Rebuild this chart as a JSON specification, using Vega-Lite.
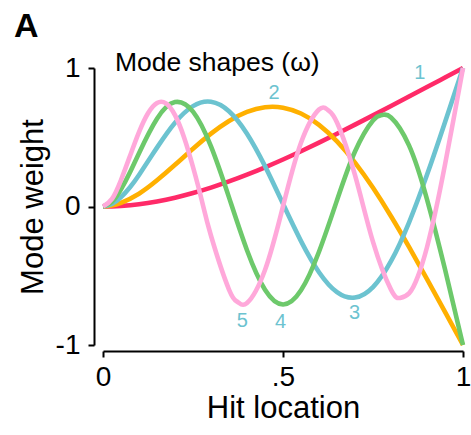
{
  "$schema": "https://vega.github.io/schema/vega-lite/v6.json",
  "width": 360,
  "height": 277,
  "autosize": {"type": "none"},
  "padding": {"left": 103, "top": 68, "right": 8, "bottom": 90},
  "background": "white",
  "title": {"text": "A", "anchor": "start", "frame": "group", "dx": -89, "offset": 6, "fontSize": 34, "fontWeight": "bold", "font": "Liberation Sans", "color": "black"},
  "config": {
    "view": {"stroke": null},
    "axis": {"grid": false, "labelFlush": false, "domainColor": "black", "domainWidth": 2, "tickColor": "black", "tickWidth": 2, "tickSize": 6, "labelFont": "Liberation Sans", "labelFontSize": 28, "labelColor": "black", "titleFont": "Liberation Sans", "titleFontSize": 31, "titleFontWeight": "normal", "titleColor": "black"}
  },
  "datasets": {
    "modes": [
      {"mode": "1", "x": 0, "w": 0}, {"mode": "1", "x": 0.025, "w": 0.0011}, {"mode": "1", "x": 0.05, "w": 0.0043}, {"mode": "1", "x": 0.1, "w": 0.0168}, {"mode": "1", "x": 0.15, "w": 0.0368}, {"mode": "1", "x": 0.2, "w": 0.0639}, {"mode": "1", "x": 0.25, "w": 0.0973}, {"mode": "1", "x": 0.3, "w": 0.1365}, {"mode": "1", "x": 0.35, "w": 0.1809}, {"mode": "1", "x": 0.4, "w": 0.2299}, {"mode": "1", "x": 0.45, "w": 0.283}, {"mode": "1", "x": 0.5, "w": 0.3395}, {"mode": "1", "x": 0.55, "w": 0.3991}, {"mode": "1", "x": 0.6, "w": 0.4611}, {"mode": "1", "x": 0.65, "w": 0.5252}, {"mode": "1", "x": 0.7, "w": 0.5909}, {"mode": "1", "x": 0.75, "w": 0.6577}, {"mode": "1", "x": 0.8, "w": 0.7255}, {"mode": "1", "x": 0.85, "w": 0.7938}, {"mode": "1", "x": 0.9, "w": 0.8624}, {"mode": "1", "x": 0.95, "w": 0.9312}, {"mode": "1", "x": 1, "w": 1},
      {"mode": "2", "x": 0, "w": 0}, {"mode": "2", "x": 0.025, "w": 0.0066}, {"mode": "2", "x": 0.05, "w": 0.0254}, {"mode": "2", "x": 0.1, "w": 0.0926}, {"mode": "2", "x": 0.15, "w": 0.1888}, {"mode": "2", "x": 0.2, "w": 0.3011}, {"mode": "2", "x": 0.25, "w": 0.4173}, {"mode": "2", "x": 0.3, "w": 0.5261}, {"mode": "2", "x": 0.35, "w": 0.6177}, {"mode": "2", "x": 0.4, "w": 0.6835}, {"mode": "2", "x": 0.45, "w": 0.717}, {"mode": "2", "x": 0.5, "w": 0.7137}, {"mode": "2", "x": 0.55, "w": 0.6712}, {"mode": "2", "x": 0.6, "w": 0.5895}, {"mode": "2", "x": 0.65, "w": 0.4702}, {"mode": "2", "x": 0.7, "w": 0.3171}, {"mode": "2", "x": 0.75, "w": 0.135}, {"mode": "2", "x": 0.8, "w": -0.07}, {"mode": "2", "x": 0.85, "w": -0.2917}, {"mode": "2", "x": 0.9, "w": -0.5238}, {"mode": "2", "x": 0.95, "w": -0.7611}, {"mode": "2", "x": 1, "w": -1},
      {"mode": "3", "x": 0, "w": 0}, {"mode": "3", "x": 0.025, "w": 0.018}, {"mode": "3", "x": 0.05, "w": 0.067}, {"mode": "3", "x": 0.075, "w": 0.1395}, {"mode": "3", "x": 0.1, "w": 0.2281}, {"mode": "3", "x": 0.15, "w": 0.4252}, {"mode": "3", "x": 0.2, "w": 0.6049}, {"mode": "3", "x": 0.25, "w": 0.7249}, {"mode": "3", "x": 0.3, "w": 0.7565}, {"mode": "3", "x": 0.35, "w": 0.6882}, {"mode": "3", "x": 0.4, "w": 0.5259}, {"mode": "3", "x": 0.45, "w": 0.2916}, {"mode": "3", "x": 0.5, "w": 0.0194}, {"mode": "3", "x": 0.55, "w": -0.2497}, {"mode": "3", "x": 0.6, "w": -0.4742}, {"mode": "3", "x": 0.65, "w": -0.6184}, {"mode": "3", "x": 0.7, "w": -0.6577}, {"mode": "3", "x": 0.75, "w": -0.5816}, {"mode": "3", "x": 0.8, "w": -0.3948}, {"mode": "3", "x": 0.85, "w": -0.1156}, {"mode": "3", "x": 0.9, "w": 0.2289}, {"mode": "3", "x": 0.95, "w": 0.609}, {"mode": "3", "x": 1, "w": 1},
      {"mode": "4", "x": 0, "w": 0}, {"mode": "4", "x": 0.025, "w": 0.0343}, {"mode": "4", "x": 0.05, "w": 0.1235}, {"mode": "4", "x": 0.075, "w": 0.247}, {"mode": "4", "x": 0.1, "w": 0.385}, {"mode": "4", "x": 0.15, "w": 0.6337}, {"mode": "4", "x": 0.2, "w": 0.7538}, {"mode": "4", "x": 0.25, "w": 0.6852}, {"mode": "4", "x": 0.3, "w": 0.4339}, {"mode": "4", "x": 0.35, "w": 0.0658}, {"mode": "4", "x": 0.4, "w": -0.3156}, {"mode": "4", "x": 0.45, "w": -0.6005}, {"mode": "4", "x": 0.5, "w": -0.7071}, {"mode": "4", "x": 0.55, "w": -0.6053}, {"mode": "4", "x": 0.6, "w": -0.3265}, {"mode": "4", "x": 0.65, "w": 0.0452}, {"mode": "4", "x": 0.7, "w": 0.3974}, {"mode": "4", "x": 0.75, "w": 0.6214}, {"mode": "4", "x": 0.775, "w": 0.6602}, {"mode": "4", "x": 0.8, "w": 0.643}, {"mode": "4", "x": 0.85, "w": 0.4417}, {"mode": "4", "x": 0.9, "w": 0.0521}, {"mode": "4", "x": 0.95, "w": -0.4536}, {"mode": "4", "x": 1, "w": -1},
      {"mode": "5", "x": 0, "w": 0}, {"mode": "5", "x": 0.025, "w": 0.0551}, {"mode": "5", "x": 0.05, "w": 0.1911}, {"mode": "5", "x": 0.075, "w": 0.3651}, {"mode": "5", "x": 0.1, "w": 0.5373}, {"mode": "5", "x": 0.125, "w": 0.6734}, {"mode": "5", "x": 0.15, "w": 0.7476}, {"mode": "5", "x": 0.175, "w": 0.7443}, {"mode": "5", "x": 0.2, "w": 0.6596}, {"mode": "5", "x": 0.225, "w": 0.5008}, {"mode": "5", "x": 0.25, "w": 0.2852}, {"mode": "5", "x": 0.275, "w": 0.038}, {"mode": "5", "x": 0.3, "w": -0.2113}, {"mode": "5", "x": 0.35, "w": -0.5993}, {"mode": "5", "x": 0.375, "w": -0.691}, {"mode": "5", "x": 0.4, "w": -0.6966}, {"mode": "5", "x": 0.45, "w": -0.4582}, {"mode": "5", "x": 0.5, "w": 0.0009}, {"mode": "5", "x": 0.55, "w": 0.4603}, {"mode": "5", "x": 0.6, "w": 0.7003}, {"mode": "5", "x": 0.625, "w": 0.6961}, {"mode": "5", "x": 0.65, "w": 0.6065}, {"mode": "5", "x": 0.7, "w": 0.2257}, {"mode": "5", "x": 0.75, "w": -0.256}, {"mode": "5", "x": 0.8, "w": -0.6005}, {"mode": "5", "x": 0.825, "w": -0.6601}, {"mode": "5", "x": 0.85, "w": -0.6276}, {"mode": "5", "x": 0.875, "w": -0.5025}, {"mode": "5", "x": 0.9, "w": -0.294}, {"mode": "5", "x": 0.925, "w": -0.0188}, {"mode": "5", "x": 0.95, "w": 0.3021}, {"mode": "5", "x": 0.975, "w": 0.6472}, {"mode": "5", "x": 1, "w": 1}
    ],
    "labels": [
      {"text": "1", "x": 0.88, "w": 0.962},
      {"text": "2", "x": 0.475, "w": 0.823},
      {"text": "3", "x": 0.699, "w": -0.77},
      {"text": "4", "x": 0.493, "w": -0.831},
      {"text": "5", "x": 0.387, "w": -0.824}
    ],
    "note": [{"text": "Mode shapes (ω)", "x": 0.033, "w": 0.975}]
  },
  "layer": [
    {
      "data": {"name": "modes"},
      "mark": {"type": "line", "strokeWidth": 4.6, "interpolate": "natural", "clip": false},
      "encoding": {
        "x": {"field": "x", "type": "quantitative", "scale": {"domain": [0, 1], "nice": false, "zero": false}, "axis": {"values": [0, 0.5, 1], "title": "Hit location", "offset": 6, "labelPadding": 6, "titlePadding": 2, "labelExpr": "datum.value == 0.5 ? '.5' : toString(datum.value)"}},
        "y": {"field": "w", "type": "quantitative", "scale": {"domain": [-1, 1], "nice": false, "zero": false}, "axis": {"values": [-1, 0, 1], "title": "Mode weight", "offset": 9, "labelPadding": 8, "titlePadding": 6, "labelExpr": "datum.value == -1 ? '-1' : toString(datum.value)"}},
        "color": {"field": "mode", "type": "nominal", "legend": null, "scale": {"domain": ["1", "2", "3", "4", "5"], "range": ["#FF2A68", "#FFB000", "#6CC3D0", "#6DC96B", "#FFA8DA"]}}
      }
    },
    {
      "data": {"name": "labels"},
      "mark": {"type": "text", "fontSize": 20, "font": "Liberation Sans", "color": "#6CC3D0", "align": "center", "baseline": "middle"},
      "encoding": {
        "x": {"field": "x", "type": "quantitative"},
        "y": {"field": "w", "type": "quantitative"},
        "text": {"field": "text"}
      }
    },
    {
      "data": {"name": "note"},
      "mark": {"type": "text", "fontSize": 26.5, "font": "Liberation Sans", "color": "black", "align": "left", "baseline": "alphabetic"},
      "encoding": {
        "x": {"field": "x", "type": "quantitative"},
        "y": {"field": "w", "type": "quantitative"},
        "text": {"field": "text"}
      }
    }
  ]
}
